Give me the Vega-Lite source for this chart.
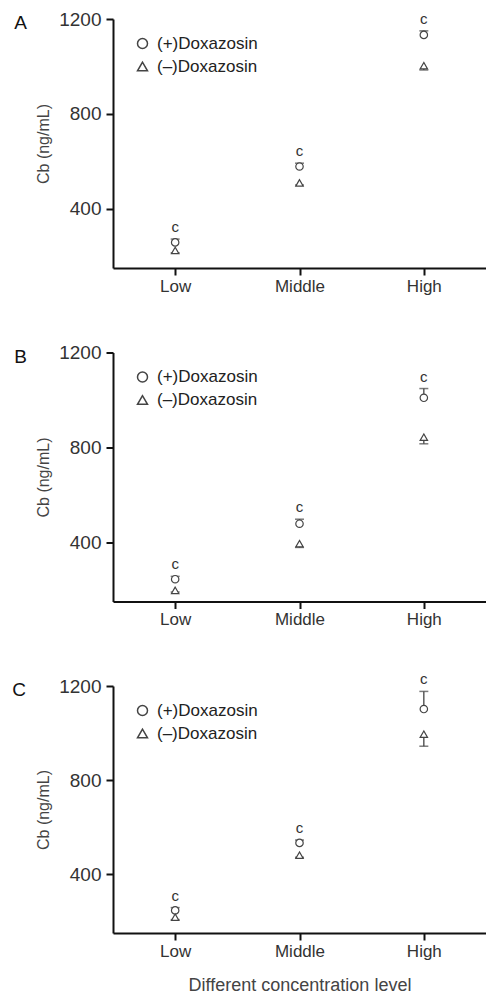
{
  "$schema": "https://vega.github.io/schema/vega-lite/v6.json",
  "padding": {"left": 12, "top": 10, "right": 0, "bottom": 0},
  "datasets": {
    "d": [
      {"panel": "A", "level": "Low", "group": "(+)Doxazosin", "mean": 258, "bar": 272, "sig": "c"},
      {"panel": "A", "level": "Low", "group": "(–)Doxazosin", "mean": 224, "bar": 214, "sig": ""},
      {"panel": "A", "level": "Middle", "group": "(+)Doxazosin", "mean": 578, "bar": 592, "sig": "c"},
      {"panel": "A", "level": "Middle", "group": "(–)Doxazosin", "mean": 509, "bar": 500, "sig": ""},
      {"panel": "A", "level": "High", "group": "(+)Doxazosin", "mean": 1133, "bar": 1150, "sig": "c"},
      {"panel": "A", "level": "High", "group": "(–)Doxazosin", "mean": 1003, "bar": 985, "sig": ""},
      {"panel": "B", "level": "Low", "group": "(+)Doxazosin", "mean": 244, "bar": 256, "sig": "c"},
      {"panel": "B", "level": "Low", "group": "(–)Doxazosin", "mean": 197, "bar": 190, "sig": ""},
      {"panel": "B", "level": "Middle", "group": "(+)Doxazosin", "mean": 478, "bar": 497, "sig": "c"},
      {"panel": "B", "level": "Middle", "group": "(–)Doxazosin", "mean": 394, "bar": 378, "sig": ""},
      {"panel": "B", "level": "High", "group": "(+)Doxazosin", "mean": 1009, "bar": 1048, "sig": "c"},
      {"panel": "B", "level": "High", "group": "(–)Doxazosin", "mean": 843, "bar": 815, "sig": ""},
      {"panel": "C", "level": "Low", "group": "(+)Doxazosin", "mean": 246, "bar": 258, "sig": "c"},
      {"panel": "C", "level": "Low", "group": "(–)Doxazosin", "mean": 217, "bar": 207, "sig": ""},
      {"panel": "C", "level": "Middle", "group": "(+)Doxazosin", "mean": 533, "bar": 545, "sig": "c"},
      {"panel": "C", "level": "Middle", "group": "(–)Doxazosin", "mean": 481, "bar": 472, "sig": ""},
      {"panel": "C", "level": "High", "group": "(+)Doxazosin", "mean": 1102, "bar": 1177, "sig": "c"},
      {"panel": "C", "level": "High", "group": "(–)Doxazosin", "mean": 995, "bar": 944, "sig": ""}
    ]
  },
  "data": {"name": "d"},
  "bounds": "flush",
  "spacing": 84.5,
  "resolve": {"scale": {"shape": "independent", "y": "independent", "x": "independent"}, "legend": {"shape": "independent"}, "axis": {"x": "independent", "y": "independent"}},
  "vconcat": [
    {
      "width": 373, "height": 249,
      "title": {"text": "A"},
      "transform": [{"filter": "datum.panel == 'A'"}],
      "encoding": {
        "x": {"field": "level", "type": "ordinal", "sort": ["Low", "Middle", "High"], "scale": {"type": "point", "padding": 0.5}, "axis": {"title": null}}
      },
      "layer": [
        {"mark": {"type": "rule", "color": "#444", "strokeWidth": 1.3}, "encoding": {"y": {"field": "mean", "type": "quantitative", "title": "Cb (ng/mL)", "scale": {"domain": [150, 1200], "nice": false, "zero": false}, "axis": {"values": [400, 800, 1200], "format": "d"}}, "y2": {"field": "bar"}}},
        {"mark": {"type": "tick", "color": "#444", "thickness": 1.5, "size": 9}, "encoding": {"y": {"field": "bar", "type": "quantitative", "title": "Cb (ng/mL)"}}},
        {"mark": {"type": "point", "filled": false, "color": "#444", "fill": "white", "strokeWidth": 1.2, "size": 55, "opacity": 1}, "encoding": {"y": {"field": "mean", "type": "quantitative", "title": "Cb (ng/mL)"}, "shape": {"field": "group", "type": "nominal", "scale": {"domain": ["(+)Doxazosin", "(–)Doxazosin"], "range": ["circle", "triangle-up"]}, "legend": {"encode": {"symbols": {"update": {"stroke": {"value": "#444"}, "fill": {"value": "white"}, "strokeWidth": {"value": 1.2}, "opacity": {"value": 1}, "size": {"value": 45}}}}}}}},
        {"mark": {"type": "text", "dy": -12, "fontSize": 15, "color": "#333", "baseline": "middle"}, "encoding": {"y": {"field": "bar", "type": "quantitative", "title": "Cb (ng/mL)"}, "text": {"field": "sig"}}}
      ]
    },
    {
      "width": 373, "height": 249,
      "title": {"text": "B"},
      "transform": [{"filter": "datum.panel == 'B'"}],
      "encoding": {
        "x": {"field": "level", "type": "ordinal", "sort": ["Low", "Middle", "High"], "scale": {"type": "point", "padding": 0.5}, "axis": {"title": null}}
      },
      "layer": [
        {"mark": {"type": "rule", "color": "#444", "strokeWidth": 1.3}, "encoding": {"y": {"field": "mean", "type": "quantitative", "title": "Cb (ng/mL)", "scale": {"domain": [150, 1200], "nice": false, "zero": false}, "axis": {"values": [400, 800, 1200], "format": "d"}}, "y2": {"field": "bar"}}},
        {"mark": {"type": "tick", "color": "#444", "thickness": 1.5, "size": 9}, "encoding": {"y": {"field": "bar", "type": "quantitative", "title": "Cb (ng/mL)"}}},
        {"mark": {"type": "point", "filled": false, "color": "#444", "fill": "white", "strokeWidth": 1.2, "size": 55, "opacity": 1}, "encoding": {"y": {"field": "mean", "type": "quantitative", "title": "Cb (ng/mL)"}, "shape": {"field": "group", "type": "nominal", "scale": {"domain": ["(+)Doxazosin", "(–)Doxazosin"], "range": ["circle", "triangle-up"]}, "legend": {"encode": {"symbols": {"update": {"stroke": {"value": "#444"}, "fill": {"value": "white"}, "strokeWidth": {"value": 1.2}, "opacity": {"value": 1}, "size": {"value": 45}}}}}}}},
        {"mark": {"type": "text", "dy": -12, "fontSize": 15, "color": "#333", "baseline": "middle"}, "encoding": {"y": {"field": "bar", "type": "quantitative", "title": "Cb (ng/mL)"}, "text": {"field": "sig"}}}
      ]
    },
    {
      "width": 373, "height": 247,
      "title": {"text": "C"},
      "transform": [{"filter": "datum.panel == 'C'"}],
      "encoding": {
        "x": {"field": "level", "type": "ordinal", "sort": ["Low", "Middle", "High"], "scale": {"type": "point", "padding": 0.5}, "axis": {"title": "Different concentration level"}}
      },
      "layer": [
        {"mark": {"type": "rule", "color": "#444", "strokeWidth": 1.3}, "encoding": {"y": {"field": "mean", "type": "quantitative", "title": "Cb (ng/mL)", "scale": {"domain": [150, 1200], "nice": false, "zero": false}, "axis": {"values": [400, 800, 1200], "format": "d"}}, "y2": {"field": "bar"}}},
        {"mark": {"type": "tick", "color": "#444", "thickness": 1.5, "size": 9}, "encoding": {"y": {"field": "bar", "type": "quantitative", "title": "Cb (ng/mL)"}}},
        {"mark": {"type": "point", "filled": false, "color": "#444", "fill": "white", "strokeWidth": 1.2, "size": 55, "opacity": 1}, "encoding": {"y": {"field": "mean", "type": "quantitative", "title": "Cb (ng/mL)"}, "shape": {"field": "group", "type": "nominal", "scale": {"domain": ["(+)Doxazosin", "(–)Doxazosin"], "range": ["circle", "triangle-up"]}, "legend": {"encode": {"symbols": {"update": {"stroke": {"value": "#444"}, "fill": {"value": "white"}, "strokeWidth": {"value": 1.2}, "opacity": {"value": 1}, "size": {"value": 45}}}}}}}},
        {"mark": {"type": "text", "dy": -12, "fontSize": 15, "color": "#333", "baseline": "middle"}, "encoding": {"y": {"field": "bar", "type": "quantitative", "title": "Cb (ng/mL)"}, "text": {"field": "sig"}}}
      ]
    }
  ],
  "config": {
    "font": "Liberation Sans",
    "view": {"stroke": null},
    "axis": {"domainColor": "#111", "domainWidth": 2, "tickColor": "#111", "tickWidth": 2, "tickSize": 7, "labelColor": "#333", "grid": false, "titleColor": "#444", "titleFontWeight": "normal"},
    "axisX": {"labelFontSize": 17, "labelPadding": 3, "labelAngle": 0, "titleFontSize": 18, "titlePadding": 17},
    "axisY": {"labelFontSize": 19, "labelPadding": 5, "titleFontSize": 16, "titlePadding": 7},
    "legend": {"orient": "none", "legendX": 21, "legendY": 16, "title": null, "labelFontSize": 17, "labelColor": "#222", "labelOffset": 6, "rowPadding": 5},
    "title": {"orient": "left", "anchor": "end", "frame": "group", "angle": 0, "fontSize": 19, "fontWeight": "normal", "color": "#111", "baseline": "middle", "align": "right", "offset": -4, "dy": -5}
  }
}
